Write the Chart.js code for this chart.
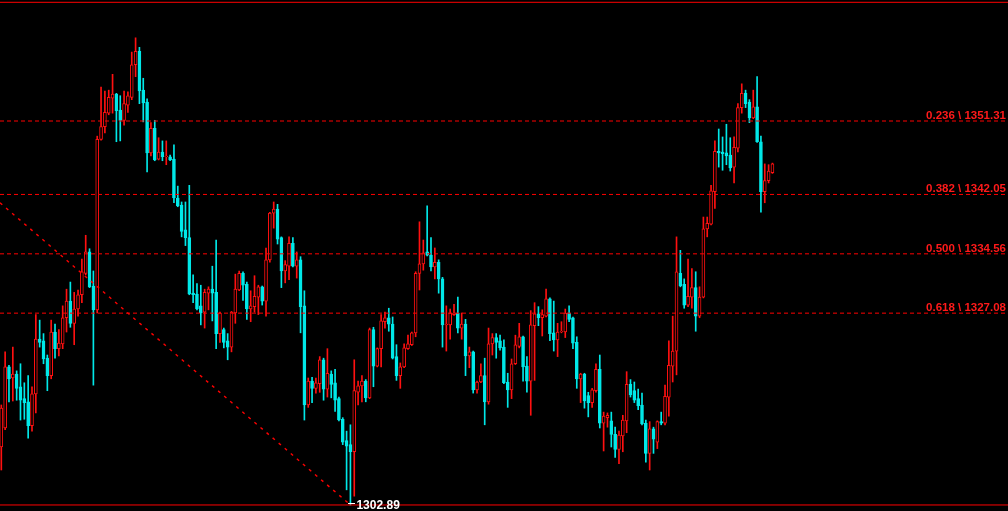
<!DOCTYPE html>
<html>
<head>
<meta charset="utf-8">
<script src="https://cdn.jsdelivr.net/npm/chart.js@4.4.1/dist/chart.umd.min.js"></script>
<style>
  html, body { margin: 0; padding: 0; background: #000; overflow: hidden; }
  #wrap { width: 1008px; height: 511px; position: relative; }
</style>
</head>
<body>
<div id="wrap"><canvas id="myChart"></canvas></div>
<script>
// candle values
var opens = [
  1310.2,1312.6,1320.3,1318.9,1319.4,1317.8,1316.3,1315.9,1312.9,1316.9,
  1323.8,1323.6,1321.4,1319.2,1324.7,1322.6,1323.2,1326.5,1328.6,1325.8,
  1327.6,1329.4,1332.1,1334.8,1330.5,1327.5,1349.0,1350.6,1352.3,1354.2,
  1354.7,1352.7,1351.4,1353.3,1354.3,1358.4,1360.1,1355.2,1353.7,1347.3,
  1350.4,1346.5,1347.4,1346.8,1346.8,1346.5,1341.6,1340.7,1337.6,1336.6,
  1329.6,1329.5,1328.0,1327.2,1329.6,1330.1,1329.7,1324.5,1325.0,1323.6,
  1322.8,1327.1,1330.0,1332.1,1330.7,1327.6,1327.9,1329.1,1330.4,1328.6,
  1333.8,1339.7,1340.2,1336.6,1332.4,1333.0,1335.9,1333.0,1333.8,1328.0,
  1315.5,1318.5,1317.6,1318.2,1321.2,1317.5,1319.4,1318.3,1316.3,1313.7,
  1311.0,1310.5,1309.6,1317.1,1317.9,1318.5,1316.4,1325.0,1320.4,1322.6,
  1326.0,1326.5,1325.7,1321.6,1319.2,1320.3,1322.6,1323.1,1324.6,1332.1,
  1333.3,1334.8,1334.4,1332.9,1333.5,1331.4,1325.6,1325.6,1326.9,1327.1,
  1325.2,1325.7,1321.7,1322.2,1317.4,1318.4,1319.2,1315.9,1323.2,1324.0,
  1323.6,1322.8,1318.4,1317.4,1320.7,1322.9,1324.1,1320.4,1318.5,1325.5,
  1327.0,1326.5,1326.7,1328.9,1324.6,1323.7,1324.7,1324.7,1327.1,1326.5,
  1323.4,1318.8,1319.4,1316.7,1315.8,1317.3,1320.0,1313.2,1313.9,1313.5,
  1311.8,1309.9,1311.6,1313.5,1318.1,1317.3,1316.3,1315.5,1313.2,1309.4,
  1312.5,1310.8,1313.4,1313.2,1316.5,1320.4,1322.3,1332.1,1330.7,1328.1,
  1329.1,1330.3,1326.7,1329.1,1337.7,1338.3,1342.4,1347.5,1347.4,1347.3,
  1347.0,1345.5,1347.9,1353.0,1354.8,1353.7,1351.7,1353.1,1348.7,1342.4,
  1343.8,1344.8
];
var highs = [
  1315.5,1322.2,1320.5,1322.8,1319.8,1320.7,1318.3,1319.2,1317.8,1326.9,
  1326.2,1324.5,1321.8,1326.2,1325.7,1325.0,1328.0,1330.1,1331.0,1329.7,
  1330.0,1333.9,1336.9,1335.2,1332.4,1349.4,1355.6,1355.1,1355.2,1357.2,
  1354.8,1354.5,1355.1,1355.0,1360.0,1361.8,1360.6,1356.7,1354.1,1351.1,
  1351.4,1349.2,1348.8,1348.8,1347.0,1348.3,1343.1,1341.1,1341.1,1343.2,
  1331.9,1330.8,1330.6,1330.1,1330.4,1333.0,1336.3,1327.2,1325.2,1324.5,
  1327.3,1332.0,1332.4,1332.3,1331.0,1329.9,1331.8,1330.6,1330.5,1335.3,
  1339.8,1341.1,1340.8,1336.7,1333.7,1336.7,1336.6,1334.8,1334.2,1329.9,
  1318.9,1319.0,1318.9,1321.6,1321.4,1322.6,1319.8,1320.0,1316.5,1313.9,
  1312.2,1313.0,1321.2,1318.5,1319.2,1318.7,1325.2,1325.3,1322.7,1326.9,
  1327.2,1327.7,1326.6,1323.1,1320.8,1323.2,1324.3,1324.7,1332.3,1338.6,
  1336.3,1340.6,1336.6,1335.3,1333.8,1331.6,1328.0,1327.6,1328.2,1329.1,
  1327.1,1326.3,1322.8,1322.3,1318.5,1320.7,1321.4,1325.2,1324.5,1324.5,
  1324.3,1323.7,1319.5,1321.3,1324.3,1325.8,1324.2,1321.6,1327.4,1328.4,
  1327.9,1327.5,1330.1,1329.0,1328.6,1325.8,1326.0,1327.6,1328.0,1326.6,
  1324.1,1319.5,1319.5,1317.1,1317.6,1320.7,1321.8,1314.6,1314.5,1314.6,
  1312.7,1312.2,1314.2,1319.7,1318.7,1318.4,1317.5,1317.0,1313.6,1313.4,
  1312.7,1313.5,1314.6,1318.0,1323.6,1326.7,1336.7,1335.0,1331.4,1333.9,
  1332.7,1332.3,1330.4,1339.2,1339.2,1343.2,1348.8,1350.3,1349.3,1350.9,
  1349.2,1349.3,1353.5,1356.0,1355.2,1354.0,1355.2,1356.9,1349.4,1345.9,
  1345.8,1346.0
];
var lows = [
  1307.3,1312.4,1315.9,1316.0,1316.1,1313.6,1313.7,1311.3,1312.2,1314.5,
  1322.8,1320.7,1317.3,1318.8,1321.4,1321.7,1322.6,1324.7,1325.3,1323.1,
  1326.7,1328.4,1331.9,1330.3,1318.0,1327.1,1348.9,1349.8,1352.1,1352.3,
  1348.7,1348.8,1350.8,1352.4,1354.0,1356.9,1353.5,1351.2,1344.9,1346.9,
  1346.3,1346.4,1346.3,1345.8,1346.3,1341.0,1340.5,1336.7,1335.6,1329.4,
  1328.4,1327.5,1325.6,1325.2,1327.5,1326.1,1322.6,1323.4,1322.7,1321.2,
  1322.2,1325.8,1329.9,1328.7,1326.3,1326.0,1327.2,1326.9,1328.1,1326.7,
  1333.5,1337.8,1335.8,1330.3,1330.9,1331.3,1332.9,1331.5,1324.6,1313.6,
  1315.2,1315.8,1317.0,1317.1,1316.1,1316.5,1316.4,1314.7,1313.5,1310.5,
  1304.8,1302.89,1304.0,1315.5,1315.9,1315.9,1316.3,1317.8,1320.3,1320.3,
  1325.2,1324.8,1321.3,1318.6,1317.6,1320.2,1322.5,1323.0,1324.1,1330.0,
  1332.5,1334.3,1332.4,1331.4,1329.6,1322.8,1322.3,1323.8,1326.8,1324.6,
  1323.8,1319.2,1320.2,1317.0,1317.0,1318.3,1313.0,1315.6,1321.8,1321.4,
  1322.4,1318.2,1315.2,1316.3,1320.6,1322.7,1318.5,1317.1,1314.2,1318.6,
  1325.5,1324.2,1326.6,1323.6,1322.3,1321.6,1324.6,1324.0,1326.0,1322.6,
  1317.6,1315.8,1315.1,1314.0,1315.2,1317.1,1312.6,1309.7,1312.7,1310.2,
  1308.9,1308.1,1309.6,1312.0,1316.5,1315.8,1314.9,1313.0,1308.3,1307.3,
  1309.4,1310.0,1313.0,1313.0,1314.1,1318.4,1319.3,1330.4,1327.7,1327.9,
  1327.7,1324.8,1326.5,1329.0,1336.7,1338.2,1340.3,1345.5,1345.1,1345.8,
  1345.0,1343.5,1347.4,1352.3,1353.0,1351.1,1351.6,1348.6,1339.8,1341.0,
  1343.5,1344.7
];
var closes = [
  1315.1,1320.3,1318.8,1319.4,1317.6,1316.1,1315.8,1312.9,1316.9,1323.8,
  1323.4,1321.3,1319.2,1324.7,1322.6,1323.3,1326.5,1328.6,1325.8,1327.6,
  1329.4,1332.3,1334.8,1330.4,1327.5,1349.0,1350.6,1352.4,1354.3,1354.7,
  1352.6,1351.4,1353.5,1354.5,1358.4,1360.1,1355.1,1353.6,1347.3,1350.4,
  1346.4,1347.4,1346.8,1346.9,1346.4,1341.6,1340.6,1337.4,1336.6,1329.5,
  1329.4,1327.6,1327.1,1329.7,1330.1,1329.6,1324.5,1327.1,1323.4,1322.8,
  1327.2,1330.1,1332.1,1330.6,1327.6,1328.0,1329.2,1330.4,1328.6,1333.8,
  1339.7,1340.2,1336.4,1332.4,1333.2,1335.9,1333.0,1333.8,1327.9,1315.5,
  1318.5,1317.6,1318.3,1321.2,1317.5,1319.5,1318.1,1316.1,1313.6,1310.8,
  1310.3,1309.6,1317.3,1317.9,1318.5,1316.4,1325.0,1320.4,1322.6,1326.1,
  1326.5,1325.7,1321.4,1319.2,1320.3,1322.7,1323.2,1324.6,1332.1,1333.3,
  1334.7,1334.4,1332.9,1333.5,1331.4,1325.6,1325.7,1327.1,1327.1,1325.2,
  1325.7,1321.7,1322.2,1317.4,1318.4,1319.2,1315.9,1323.2,1324.0,1323.4,
  1322.7,1318.3,1317.4,1320.7,1323.1,1324.1,1320.3,1318.5,1325.6,1327.0,
  1326.5,1326.9,1328.9,1324.5,1323.7,1324.7,1324.8,1327.1,1326.3,1323.3,
  1318.8,1319.4,1316.0,1315.8,1317.4,1320.0,1313.2,1314.1,1314.2,1311.8,
  1309.9,1311.7,1313.6,1318.1,1316.8,1316.1,1315.4,1313.1,1309.4,1312.5,
  1311.2,1313.4,1313.2,1316.6,1320.5,1322.3,1332.3,1330.5,1328.1,1329.2,
  1330.3,1326.7,1329.1,1337.7,1338.4,1342.5,1347.5,1347.3,1347.2,1346.9,
  1345.4,1348.0,1353.0,1354.8,1353.5,1351.7,1353.1,1348.7,1342.4,1343.8,
  1345.0,1345.9
];

// fibonacci retracement
var fibRatios = [0.236, 0.382, 0.500, 0.618];
var fibLevels = [1351.31, 1342.05, 1334.56, 1327.08];
var fibHigh = 1366.28;
var fibLow = 1302.89;
var lowIndex = 91;

// dotted trend line
var trendX = [-0.34, 91];
var trendY = [1341.0, 1302.89];

var xMin = -0.34, xMax = 262.4;
var upColor = '#FF1010';
var downColor = '#00E8E8';
var lineRed = '#FF0000';

var wickData = [], bodyData = [], lineColors = [], fillColors = [];
for (var i = 0; i < opens.length; i++) {
  var up = closes[i] >= opens[i];
  wickData.push({ x: i, y: [lows[i], highs[i]] });
  bodyData.push({ x: i, y: [opens[i], closes[i]] });
  lineColors.push(up ? upColor : downColor);
  fillColors.push(up ? '#000000' : downColor);
}

function hLine(level, dash) {
  return {
    type: 'line',
    data: [{ x: xMin, y: level }, { x: xMax, y: level }],
    borderColor: lineRed,
    borderWidth: 1,
    borderDash: dash,
    pointRadius: 0,
    order: 0
  };
}

var datasets = [
  {
    type: 'bar',
    data: wickData,
    backgroundColor: lineColors,
    barThickness: 1,
    grouped: false,
    order: 2
  },
  {
    type: 'bar',
    data: bodyData,
    backgroundColor: fillColors,
    borderColor: lineColors,
    borderWidth: 1,
    borderSkipped: false,
    barThickness: 3,
    grouped: false,
    order: 1
  },
  {
    type: 'line',
    data: trendX.map(function (x, k) { return { x: x, y: trendY[k] }; }),
    borderColor: lineRed,
    borderWidth: 1.4,
    borderDash: [3, 5],
    pointRadius: 0,
    order: 0
  },
  hLine(fibHigh, []),
  hLine(fibLow, [])
];
for (var j = 0; j < fibLevels.length; j++) {
  datasets.push(hLine(fibLevels[j], [4, 3]));
}

// text on the chart: fib labels and low price
var fibLabels = {
  id: 'fibLabels',
  afterDatasetsDraw: function (chart) {
    var ctx = chart.ctx;
    var xs = chart.scales.x, ys = chart.scales.y;
    ctx.save();
    ctx.font = 'bold 11.5px "Liberation Sans", Arial, sans-serif';
    ctx.fillStyle = '#FF1A1A';
    ctx.textAlign = 'right';
    ctx.textBaseline = 'alphabetic';
    for (var k = 0; k < fibLevels.length; k++) {
      var y = ys.getPixelForValue(fibLevels[k]);
      ctx.fillText(fibRatios[k].toFixed(3) + ' \\ ' + fibLevels[k].toFixed(2), chart.chartArea.right - 2, y - 2);
    }
    var lx = xs.getPixelForValue(lowIndex);
    var ly = ys.getPixelForValue(fibLow);
    ctx.fillStyle = '#FFFFFF';
    ctx.fillRect(Math.round(lx) - 2, Math.round(ly) - 2, 7, 1);
    ctx.font = 'bold 12px "Liberation Sans", Arial, sans-serif';
    ctx.textAlign = 'left';
    ctx.fillText(fibLow.toFixed(2), lx + 6, ly + 4);
    ctx.restore();
  }
};

var ctx = document.getElementById('myChart').getContext('2d');
var myChart = new Chart(ctx, {
  type: 'bar',
  data: { datasets: datasets },
  options: {
    responsive: true,
    maintainAspectRatio: false,
    animation: false,
    events: [],
    layout: { padding: 0 },
    scales: {
      x: { type: 'linear', min: xMin, max: xMax, offset: false, display: false },
      y: { min: 1302.13, max: 1366.57, display: false }
    },
    plugins: {
      legend: { display: false },
      tooltip: { enabled: false }
    }
  },
  plugins: [fibLabels]
});
</script>
</body>
</html>
